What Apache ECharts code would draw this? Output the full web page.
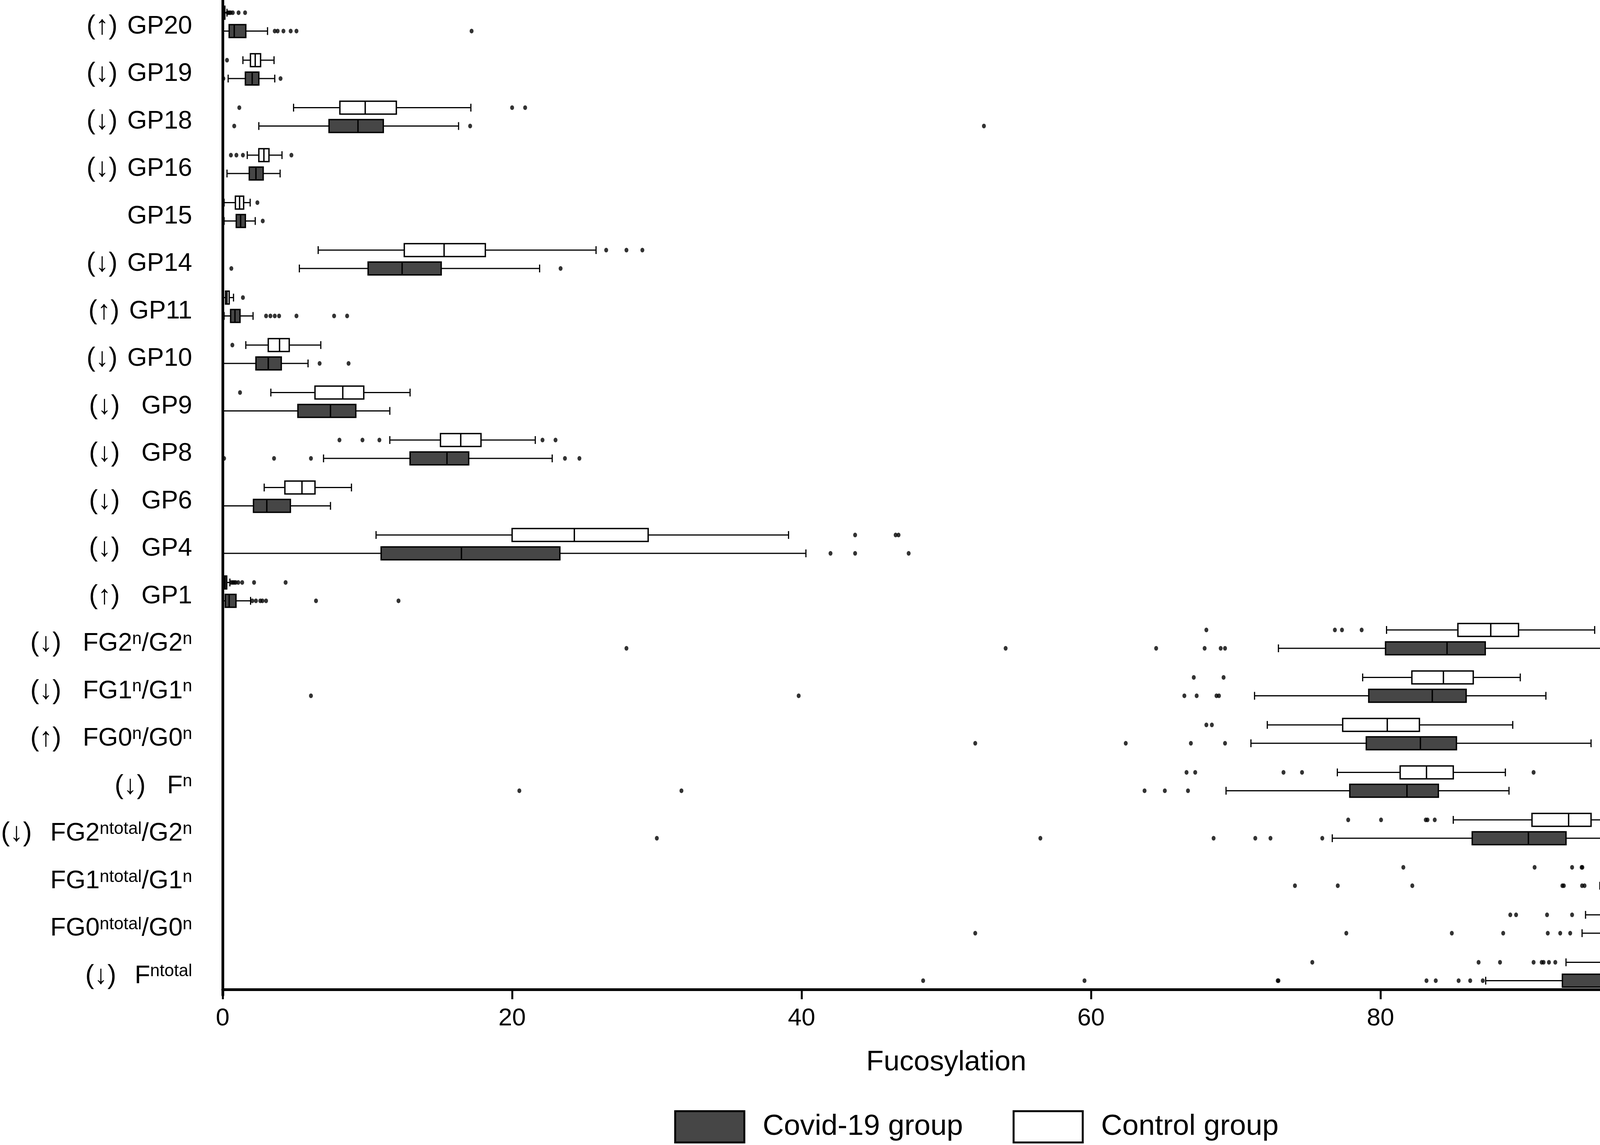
<!DOCTYPE html>
<html>
<head>
<meta charset="utf-8">
<script src="https://cdn.jsdelivr.net/npm/echarts@6/dist/echarts.min.js"></script>
<style>
html,body{margin:0;padding:0;background:#ffffff;}
#chart{width:4331px;height:2930px;}
</style>
</head>
<body>
<div id="chart"></div>
<script>
// ---------- data ----------
const categories = ['GP20','GP19','GP18','GP16','GP15','GP14','GP11','GP10','GP9','GP8','GP6','GP4','GP1',
  'FG2n/G2n','FG1n/G1n','FG0n/G0n','Fn','FG2ntotal/G2n','FG1ntotal/G1n','FG0ntotal/G0n','Fntotal'];

// tick labels (^ marks a superscript run)
const tickLabels = ['GP20','GP19','GP18','GP16','GP15','GP14','GP11','GP10','GP9','GP8','GP6','GP4','GP1',
  'FG2^n/G2^n','FG1^n/G1^n','FG0^n/G0^n','F^n','FG2^ntotal/G2^n','FG1^ntotal/G1^n','FG0^ntotal/G0^n','F^ntotal'];

// change direction shown before each label
const trend = ['↑','↓','↓','↓','','↓','↑','↓','↓','↓','↓','↓','↑','↓','↓','↑','↓','↓','','','↓'];

const xTicks = [0, 20, 40, 60, 80, 100];

// [min, Q1, median, Q3, max]
const covidBox = [
  [0, 0.45, 0.8, 1.6, 3.1],
  [0.38, 1.57, 2.04, 2.5, 3.6],
  [2.5, 7.35, 9.35, 11.1, 16.3],
  [0.3, 1.84, 2.3, 2.8, 3.97],
  [0.1, 0.94, 1.24, 1.57, 2.25],
  [5.3, 10.05, 12.4, 15.1, 21.9],
  [0.1, 0.55, 0.85, 1.2, 2.1],
  [0.05, 2.3, 3.15, 4.05, 5.9],
  [0, 5.2, 7.45, 9.2, 11.55],
  [6.97, 12.95, 15.5, 17.0, 22.77],
  [0, 2.13, 3.05, 4.68, 7.45],
  [0, 10.95, 16.5, 23.3, 40.3],
  [0.05, 0.18, 0.45, 0.92, 1.93],
  [72.95, 80.35, 84.6, 87.24, 96.9],
  [71.3, 79.19, 83.58, 85.92, 91.43],
  [71.05, 79.02, 82.76, 85.25, 94.55],
  [69.33, 77.88, 81.83, 84.0, 88.88],
  [76.67, 86.34, 90.22, 92.82, 98.34],
  [95.16, 97.53, 98.71, 99.4, 99.97],
  [93.93, 96.64, 97.63, 98.83, 99.82],
  [87.27, 92.57, 95.26, 96.2, 98.25]
];

const controlBox = [
  [0, 0.03, 0.08, 0.15, 0.3],
  [1.4, 1.92, 2.25, 2.62, 3.55],
  [4.9, 8.1, 9.85, 12.0, 17.15],
  [1.7, 2.5, 2.85, 3.2, 4.1],
  [0.1, 0.88, 1.17, 1.45, 1.9],
  [6.6, 12.55, 15.3, 18.15, 25.8],
  [0.05, 0.2, 0.3, 0.45, 0.75],
  [1.6, 3.15, 3.93, 4.6, 6.78],
  [3.33, 6.38, 8.3, 9.75, 12.95],
  [11.55, 15.05, 16.45, 17.85, 21.6],
  [2.87, 4.3, 5.48, 6.38, 8.9],
  [10.6, 20.0, 24.3, 29.4, 39.1],
  [0.02, 0.1, 0.18, 0.28, 0.5],
  [80.42, 85.35, 87.62, 89.54, 94.8],
  [78.77, 82.17, 84.35, 86.41, 89.66],
  [72.18, 77.39, 80.47, 82.69, 89.14],
  [77.02, 81.36, 83.18, 85.03, 88.63],
  [85.03, 90.47, 93.0, 94.55, 97.98],
  [97.38, 98.34, 98.96, 99.35, 99.97],
  [94.17, 96.82, 97.98, 98.74, 99.82],
  [92.82, 95.63, 96.94, 97.75, 99.45]
];

// outliers per category
const covidOutliers = [
  [3.6, 3.8, 4.2, 4.7, 5.1, 17.2],
  [0.05, 4.0],
  [0.8, 17.1, 52.6],
  [],
  [2.77],
  [0.6, 23.35],
  [3.0, 3.3, 3.6, 3.9, 5.1, 7.7, 8.6],
  [6.7, 8.7],
  [],
  [0.1, 3.55, 6.1, 23.65, 24.65],
  [],
  [42.0, 43.7, 47.4],
  [2.05, 2.3, 2.6, 2.75, 3.0, 6.45, 12.15],
  [27.9, 54.1, 64.5, 67.85, 68.96, 69.26],
  [6.1, 39.8, 66.45, 67.3, 68.67, 68.84],
  [52.0, 62.4, 66.9, 69.26, 96.94, 97.75],
  [20.5, 31.7, 63.7, 65.1, 66.7],
  [30.0, 56.5, 68.47, 71.35, 72.4, 75.98],
  [74.09, 77.05, 82.2, 92.57, 92.67, 93.93, 94.1],
  [52.0, 77.64, 84.93, 88.48, 91.56, 92.42, 93.11],
  [48.4, 59.55, 72.9, 72.95, 83.18, 83.82, 85.4, 86.2, 87.07]
];

const controlOutliers = [
  [0.35, 0.45, 0.55, 0.7, 1.1, 1.55],
  [0.3],
  [1.15, 20.0, 20.9],
  [0.57, 0.95, 1.4, 4.75],
  [2.4],
  [26.5, 27.9, 29.0],
  [1.4],
  [0.67],
  [1.2],
  [8.07, 9.66, 10.83, 22.1, 23.0],
  [],
  [43.7, 46.5, 46.7],
  [0.6, 0.7, 0.8, 0.9, 1.08, 1.35, 2.17, 4.35],
  [67.97, 76.85, 77.34, 78.7, 95.95],
  [67.1, 69.16, 95.7],
  [67.97, 68.35],
  [66.6, 67.2, 73.3, 74.58, 90.58],
  [77.77, 80.04, 83.13, 83.25, 83.75],
  [81.58, 90.65, 93.24, 93.9, 93.95, 96.2, 96.4],
  [88.97, 89.37, 91.51, 93.24],
  [75.29, 86.78, 88.26, 90.58, 91.14, 91.27, 91.64, 92.08]
];

// ---------- layout / style ----------
const FONT = 'Liberation Sans, Arial, Helvetica, sans-serif';
const gridLeft = 570, gridTop = -4.75, gridWidth = 3705, gridHeight = 2551.5;
const axisLineY = 2532;
const band = gridHeight / categories.length;     // px per category
const PAIR_OFF = 23.5 / 121.5;                     // box centre offset, fraction of band
const BOX_H = 33 / 121.5;                          // box height, fraction of band
const CAP_H = 20 / 121.5;                          // whisker cap length, fraction of band
const COVID_FILL = '#464646';

function buildLabel(i) {
  let body = '{m|' + tickLabels[i].replace(/\^([a-z]+)/g, '}{s|$1}{m|') + '}';
  body = body.replace(/\{m\|\}/g, '');
  if (!trend[i]) return body;
  let style = 'b';
  if (/^GP\d\d$/.test(categories[i])) style = 'a';
  else if (/ntotal/.test(categories[i])) style = 'c';
  return '{' + style + '|(' + trend[i] + ')}' + body;
}

const toPoints = arr => arr.flatMap((vals, i) => vals.map(v => [v, i]));
const toBoxRows = arr => arr.map((b, i) => [i].concat(b));

function boxRenderer(offFrac, fill) {
  return function (params, api) {
    const cat = api.value(0);
    const bw = api.size([0, 1])[1];
    const yc = api.coord([0, cat])[1] + offFrac * bw;
    const x = [1, 2, 3, 4, 5].map(d => api.coord([api.value(d), cat])[0]);
    const h = BOX_H * bw, c = CAP_H * bw;
    const ls = {stroke: '#000', lineWidth: 3, fill: null};
    return {
      type: 'group',
      children: [
        {type: 'line', shape: {x1: x[0], y1: yc, x2: x[1], y2: yc}, style: ls},
        {type: 'line', shape: {x1: x[3], y1: yc, x2: x[4], y2: yc}, style: ls},
        {type: 'line', shape: {x1: x[0], y1: yc - c / 2, x2: x[0], y2: yc + c / 2}, style: ls},
        {type: 'line', shape: {x1: x[4], y1: yc - c / 2, x2: x[4], y2: yc + c / 2}, style: ls},
        {type: 'rect', shape: {x: x[1], y: yc - h / 2, width: Math.max(x[3] - x[1], 1), height: h},
          style: {fill: fill, stroke: '#000', lineWidth: 3.5}},
        {type: 'line', shape: {x1: x[2], y1: yc - h / 2, x2: x[2], y2: yc + h / 2}, style: {stroke: '#000', lineWidth: 3.5}}
      ]
    };
  };
}

const chart = echarts.init(document.getElementById('chart'), null, {renderer: 'canvas'});

const option = {
  animation: false,
  backgroundColor: '#ffffff',
  textStyle: {fontFamily: FONT, color: '#000'},
  grid: {left: gridLeft, top: gridTop, width: gridWidth, height: gridHeight, containLabel: false, outerBoundsMode: 'none'},
  legend: {
    left: 1726, top: 2841,
    orient: 'horizontal',
    itemWidth: 177, itemHeight: 80, itemGap: 127,
    padding: 0,
    selectedMode: false,
    textStyle: {fontFamily: FONT, fontSize: 75, color: '#000', padding: [0, 0, 0, 42]},
    data: [
      {name: 'Covid-19 group', icon: 'rect', itemStyle: {color: COVID_FILL, borderColor: '#000', borderWidth: 5}},
      {name: 'Control group', icon: 'rect', itemStyle: {color: '#ffffff', borderColor: '#000', borderWidth: 5}}
    ]
  },
  xAxis: {
    type: 'value',
    min: 0, max: 100, interval: 20,
    offset: axisLineY - (gridTop + gridHeight),
    name: 'Fucosylation',
    nameLocation: 'middle',
    nameGap: 150,
    nameTextStyle: {fontFamily: FONT, fontSize: 73, color: '#000'},
    axisLine: {show: true, lineStyle: {color: '#000', width: 7}},
    axisTick: {show: true, length: 25, lineStyle: {color: '#000', width: 5}},
    axisLabel: {fontFamily: FONT, fontSize: 63, color: '#000', margin: 43,
      formatter: v => (xTicks.indexOf(v) >= 0 ? String(v) : '')},
    splitLine: {show: false}
  },
  yAxis: {
    type: 'category',
    data: categories,
    inverse: true,
    boundaryGap: true,
    axisLine: {show: true, lineStyle: {color: '#000', width: 7}},
    axisTick: {show: false},
    splitLine: {show: false},
    axisLabel: {
      interval: 0,
      margin: 78,
      align: 'right',
      padding: [24, 0, 0, 0],
      fontFamily: FONT, fontSize: 65, color: '#000',
      formatter: (value, index) => buildLabel(index),
      rich: {
        m: {fontFamily: FONT, fontSize: 65, color: '#000'},
        s: {fontFamily: FONT, fontSize: 44, color: '#000', verticalAlign: 'top'},
        a: {fontFamily: FONT, fontSize: 68, color: '#000', padding: [0, 25, 0, 0]},
        b: {fontFamily: FONT, fontSize: 68, color: '#000', padding: [0, 55, 0, 0]},
        c: {fontFamily: FONT, fontSize: 68, color: '#000', padding: [0, 47, 0, 0]}
      }
    }
  },
  series: [
    {
      name: 'Control group',
      type: 'custom',
      data: toBoxRows(controlBox),
      encode: {y: 0, x: [1, 2, 3, 4, 5]},
      renderItem: boxRenderer(-PAIR_OFF, '#ffffff'),
      itemStyle: {color: '#ffffff', borderColor: '#000'},
      silent: true,
      z: 2
    },
    {
      name: 'Covid-19 group',
      type: 'custom',
      data: toBoxRows(covidBox),
      encode: {y: 0, x: [1, 2, 3, 4, 5]},
      renderItem: boxRenderer(PAIR_OFF, COVID_FILL),
      itemStyle: {color: COVID_FILL, borderColor: '#000'},
      silent: true,
      z: 2
    },
    {
      name: 'Control outliers',
      type: 'scatter',
      data: toPoints(controlOutliers),
      symbol: 'circle',
      symbolSize: [10, 12],
      symbolOffset: [0, -PAIR_OFF * band],
      silent: true,
      itemStyle: {color: '#000'},
      z: 3
    },
    {
      name: 'Covid outliers',
      type: 'scatter',
      data: toPoints(covidOutliers),
      symbol: 'circle',
      symbolSize: [10, 12],
      symbolOffset: [0, PAIR_OFF * band],
      silent: true,
      itemStyle: {color: '#000'},
      z: 3
    }
  ]
};

chart.setOption(option);
</script>
</body>
</html>
